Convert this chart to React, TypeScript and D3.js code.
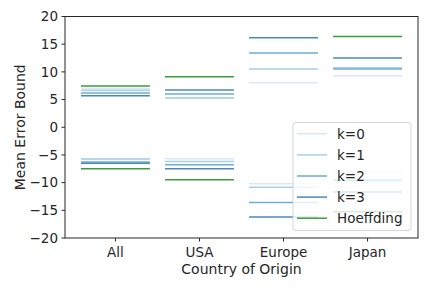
import * as d3 from 'd3';

const categories = ['All', 'USA', 'Europe', 'Japan'];
const seriesNames = ['k=0', 'k=1', 'k=2', 'k=3', 'Hoeffding'];
const seriesColors = ['#d9e8f5', '#a9cfe5', '#6baed6', '#4a88c0', '#3a9e3a'];

// upper / lower bound per category
const k0Upper = [7.0, 5.28, 8.05, 9.3];
const k1Upper = [6.66, 5.28, 10.5, 10.75];
const k2Upper = [6.18, 6.0, 13.4, 10.5];
const k3Upper = [5.7, 6.73, 16.17, 12.5];
const hoeffUpper = [7.45, 9.13, 22.0, 16.4];

const k0Lower = [-5.7, -5.68, -10.2, -8.1];
const k1Lower = [-5.74, -6.2, -10.85, -9.5];
const k2Lower = [-6.28, -6.76, -13.6, -9.6];
const k3Lower = [-6.5, -7.5, -16.2, -11.7];
const hoeffLower = [-7.5, -9.47, -22.0, -15.25];

const yTicks = [-20, -15, -10, -5, 0, 5, 10, 15, 20];

const uppers = [k0Upper, k1Upper, k2Upper, k3Upper, hoeffUpper];
const lowers = [k0Lower, k1Lower, k2Lower, k3Lower, hoeffLower];

const W = 432;
const H = 288;
const margin = { top: 16.5, right: 14, bottom: 50, left: 65 };
const font = 'DejaVu Sans, sans-serif';

export default function App() {
  const innerW = W - margin.left - margin.right;
  const innerH = H - margin.top - margin.bottom;

  const x = d3.scaleLinear().domain([-0.6, categories.length - 0.4]).range([0, innerW]);
  const y = d3.scaleLinear().domain([-20, 20]).range([innerH, 0]);
  const half = 0.41;

  const legendX = 293 - margin.left;
  const legendY = 122.5 - margin.top;
  const legendW = 118;
  const legendH = 108;

  return (
    <svg width={W} height={H} style={{ position: 'absolute', left: 0, top: 0 }} fontFamily={font}>
      <defs>
        <clipPath id="plot-clip">
          <rect x={0} y={0} width={innerW} height={innerH} />
        </clipPath>
      </defs>
      <g transform={`translate(${margin.left},${margin.top})`}>
        <g clipPath="url(#plot-clip)">
          {seriesNames.map((name, s) =>
            categories.map((c, i) => (
              <g key={`${name}-${c}`}>
                {[uppers[s][i], lowers[s][i]].map((v, j) => (
                  <line
                    key={j}
                    x1={x(i - half)}
                    x2={x(i + half)}
                    y1={y(v)}
                    y2={y(v)}
                    stroke={seriesColors[s]}
                    strokeWidth={1.5}
                  />
                ))}
              </g>
            ))
          )}
        </g>

        {/* frame */}
        <rect x={0} y={0} width={innerW} height={innerH} fill="none" stroke="#262626" strokeWidth={1} />

        {/* y axis */}
        {yTicks.map((t) => (
          <g key={t} transform={`translate(0,${y(t)})`}>
            <line x1={-3.5} x2={0} stroke="#262626" />
            <text x={-7} dy="0.35em" textAnchor="end" fontSize={13.5} fill="#262626">
              {t < 0 ? `\u2212${Math.abs(t)}` : t}
            </text>
          </g>
        ))}

        {/* x axis */}
        {categories.map((c, i) => (
          <g key={c} transform={`translate(${x(i)},${innerH})`}>
            <line y1={0} y2={3.5} stroke="#262626" />
            <text y={19} textAnchor="middle" fontSize={13.5} fill="#262626">
              {c}
            </text>
          </g>
        ))}

        <text x={innerW / 2} y={innerH + 36} textAnchor="middle" fontSize={14} fill="#262626">
          Country of Origin
        </text>
        <text
          transform={`translate(${20 - margin.left},${innerH / 2}) rotate(-90)`}
          textAnchor="middle"
          dy="0.35em"
          fontSize={14}
          fill="#262626"
        >
          Mean Error Bound
        </text>

        {/* legend */}
        <g transform={`translate(${legendX},${legendY})`}>
          <rect
            width={legendW}
            height={legendH}
            rx={3}
            fill="white"
            fillOpacity={0.8}
            stroke="#cccccc"
            strokeOpacity={0.8}
          />
          {seriesNames.map((name, s) => (
            <g key={name} transform={`translate(0,${11.3 + s * 21.1})`}>
              <line x1={4} x2={34} stroke={seriesColors[s]} strokeWidth={1.5} />
              <text x={44} dy="0.35em" fontSize={13.5} fill="#262626">
                {name}
              </text>
            </g>
          ))}
        </g>
      </g>
    </svg>
  );
}
